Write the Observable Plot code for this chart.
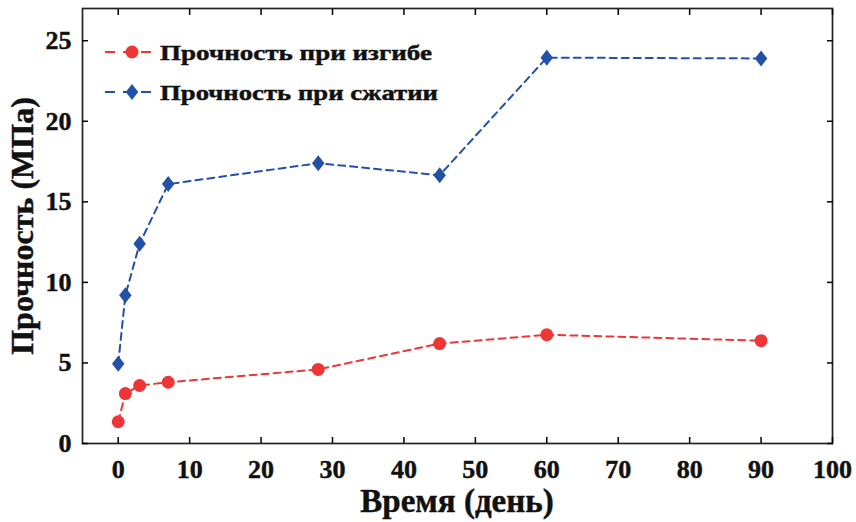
<!DOCTYPE html>
<html><head><meta charset="utf-8">
<script src="https://cdn.jsdelivr.net/npm/d3@7"></script>
<script src="https://cdn.jsdelivr.net/npm/@observablehq/plot@0.6"></script>
<style>body{margin:0;background:#fff} #chart svg text{stroke:#111;stroke-width:0.45px}</style>
</head><body><div id="chart"></div>
<script>
const days = [0, 1, 3, 7, 28, 45, 60, 90];
const flexural = [1.35, 3.1, 3.6, 3.8, 4.6, 6.2, 6.75, 6.38];
const compressive = [4.95, 9.2, 12.4, 16.1, 17.4, 16.65, 23.95, 23.9];
const seriesNames = ["Прочность при изгибе", "Прочность при сжатии"];
const xTicks = [0, 10, 20, 30, 40, 50, 60, 70, 80, 90, 100];
const yTicks = [0, 5, 10, 15, 20, 25];
const colors = ["#ef3636", "#2251a8"];

const flexData = days.map((d, i) => ({x: d, y: flexural[i]}));
const compData = days.map((d, i) => ({x: d, y: compressive[i]}));
const font = "'Liberation Serif', 'Times New Roman', serif";

// matplotlib-like diamond (taller than wide)
const diamond = {
  draw(context, size) {
    const r = Math.sqrt(size / Math.PI);
    const w = r * 0.78;
    context.moveTo(0, -r);
    context.lineTo(w, 0);
    context.lineTo(0, r);
    context.lineTo(-w, 0);
    context.closePath();
  }
};

const plot = Plot.plot({
  width: 856, height: 522,
  marginLeft: 82, marginTop: 8, marginRight: 24, marginBottom: 79,
  style: {fontFamily: font, fontWeight: "bold", background: "#fff"},
  x: {domain: [-5, 100]},
  y: {domain: [0, 27]},
  marks: [
    Plot.frame({stroke: "#222", strokeWidth: 1.7}),
    Plot.axisX(xTicks, {anchor: "bottom", tickSize: 0, tickPadding: 16, fontSize: 26, label: null, color: "#111"}),
    Plot.axisX(xTicks, {anchor: "bottom", tickSize: -6, tickFormat: () => "", label: null, strokeWidth: 1.5}),
    Plot.axisX(xTicks, {anchor: "top", tickSize: -6, tickFormat: () => "", label: null, strokeWidth: 1.5}),
    Plot.axisY(yTicks, {anchor: "left", tickSize: 0, tickPadding: 11, fontSize: 26, label: null, color: "#111"}),
    Plot.axisY(yTicks, {anchor: "left", tickSize: -6, tickFormat: () => "", label: null, strokeWidth: 1.5}),
    Plot.axisY(yTicks, {anchor: "right", tickSize: -6, tickFormat: () => "", label: null, strokeWidth: 1.5}),
    Plot.line(flexData, {x: "x", y: "y", stroke: colors[0], strokeWidth: 2, strokeDasharray: "7,5"}),
    Plot.line(compData, {x: "x", y: "y", stroke: colors[1], strokeWidth: 2, strokeDasharray: "7,5"}),
    Plot.dot(flexData, {x: "x", y: "y", fill: colors[0], r: 6.5, symbol: "circle"}),
    Plot.dot(compData, {x: "x", y: "y", fill: colors[1], r: 8, symbol: diamond})
  ]
});

const svg = d3.select(plot);
// axis titles
svg.append("text").attr("x", 457).attr("y", 512).attr("text-anchor", "middle")
  .attr("font-family", font).attr("font-weight", "bold").attr("font-size", 33).attr("fill", "#111")
  .text("Время (день)");
svg.append("text").attr("transform", "translate(33,226) rotate(-90)").attr("text-anchor", "middle")
  .attr("font-family", font).attr("font-weight", "bold").attr("font-size", 32).attr("fill", "#111")
  .text("Прочность (МПа)");

// legend
const legendY = [52, 92];
const legendLen = [272, 278];
seriesNames.forEach((name, i) => {
  const g = svg.append("g").attr("transform", `translate(0,${legendY[i]})`);
  g.append("line").attr("x1", 105).attr("x2", 151).attr("y1", 0).attr("y2", 0)
    .attr("stroke", colors[i]).attr("stroke-width", 2).attr("stroke-dasharray", "10,8");
  if (i === 0) {
    g.append("circle").attr("cx", 132).attr("cy", 0).attr("r", 6.5).attr("fill", colors[i]);
  } else {
    g.append("path").attr("transform", "translate(132,0)")
      .attr("d", d3.symbol(diamond, Math.PI * 8 * 8)()).attr("fill", colors[i]);
  }
  g.append("text").attr("x", 160).attr("y", 0).attr("dy", "0.35em").attr("text-anchor", "start")
    .attr("font-family", font).attr("font-weight", "bold").attr("font-size", 22).attr("fill", "#111")
    .attr("textLength", legendLen[i]).attr("lengthAdjust", "spacingAndGlyphs")
    .text(name);
});

document.getElementById("chart").appendChild(plot);
</script>
</body></html>
